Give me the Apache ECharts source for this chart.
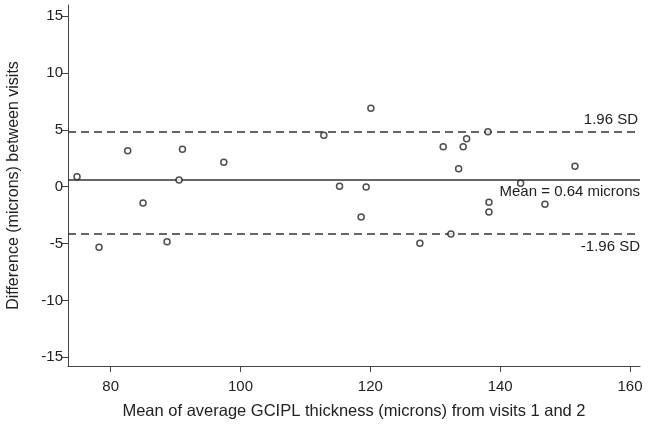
<!DOCTYPE html>
<html>
<head>
<meta charset="utf-8">
<script src="https://cdn.jsdelivr.net/npm/echarts@6/dist/echarts.min.js"></script>
<style>html,body{margin:0;padding:0;background:#fff}#c{width:648px;height:430px}</style>
</head>
<body>
<div id="c"></div>
<script>
// Bland-Altman data
const meanX = [74.81, 78.2, 82.62, 84.98, 88.68, 90.53, 91.05, 97.42, 112.83, 115.25, 118.58, 119.35, 120.08, 127.63, 131.22, 132.41, 133.6, 134.3, 134.83, 138.11, 138.27, 138.27, 143.15, 146.9, 151.52];
const diffY = [0.88, -5.33, 3.17, -1.43, -4.84, 0.59, 3.29, 2.15, 4.52, 0.04, -2.66, -0.03, 6.9, -4.98, 3.52, -4.16, 1.58, 3.52, 4.22, 4.84, -1.37, -2.23, 0.3, -1.55, 1.79];
const meanLine = 0.64;
const upperLine = 4.8;
const lowerLine = -4.18;
const xTicks = [80, 100, 120, 140, 160];
const yTicks = [-15, -10, -5, 0, 5, 10, 15];
const labels = { upper: '1.96 SD', mean: 'Mean = 0.64 microns', lower: '-1.96 SD' };
const xTitle = 'Mean of average GCIPL thickness (microns) from visits 1 and 2';
const yTitle = 'Difference (microns) between visits';

const font = 'Liberation Sans, Arial, sans-serif';
const chart = echarts.init(document.getElementById('c'), null, { renderer: 'canvas' });
const axisCol = '#444';
chart.setOption({
  animation: false,
  backgroundColor: '#fff',
  grid: { left: 68, right: 8, top: 5, bottom: 64, containLabel: false, outerBoundsMode: 'none' },
  xAxis: {
    type: 'value', min: 73.42, max: 161.54,
    name: xTitle, nameLocation: 'middle', nameGap: 37,
    nameTextStyle: { fontFamily: font, fontSize: 16.5, color: '#222' },
    axisLine: { show: true, onZero: false, lineStyle: { color: axisCol, width: 1 } },
    axisTick: { show: true, length: 6, customValues: xTicks, lineStyle: { color: axisCol } },
    axisLabel: { customValues: xTicks, fontFamily: font, fontSize: 15, color: '#222', margin: 13 },
    splitLine: { show: false }
  },
  yAxis: {
    type: 'value', min: -15.77, max: 15.98,
    name: yTitle, nameLocation: 'middle', nameGap: 46, nameRotate: 90,
    nameTextStyle: { fontFamily: font, fontSize: 16, color: '#222' },
    axisLine: { show: true, onZero: false, lineStyle: { color: axisCol, width: 1 } },
    axisTick: { show: true, length: 6, customValues: yTicks, lineStyle: { color: axisCol } },
    axisLabel: { customValues: yTicks, fontFamily: font, fontSize: 15, color: '#222', margin: 5 },
    splitLine: { show: false }
  },
  series: [{
    type: 'scatter',
    data: meanX.map((x, i) => [x, diffY[i]]),
    symbol: 'circle', symbolSize: 6,
    itemStyle: { color: '#fff', borderColor: '#222', borderWidth: 1.5 },
    z: 5,
    markLine: {
      silent: true, symbol: 'none', animation: false,
      data: [
        { yAxis: upperLine, lineStyle: { type: [8, 5], color: '#333', width: 1.5 },
          label: { show: true, formatter: labels.upper, position: 'insideEndTop', distance: [2, 5] } },
        { yAxis: meanLine, lineStyle: { type: 'solid', color: '#333', width: 1.5 },
          label: { show: true, formatter: labels.mean, position: 'insideEndBottom', distance: [0, 5] } },
        { yAxis: lowerLine, lineStyle: { type: [8, 5], color: '#333', width: 1.5 },
          label: { show: true, formatter: labels.lower, position: 'insideEndBottom', distance: [0, 5] } }
      ],
      label: { fontFamily: font, fontSize: 15, color: '#222' }
    }
  }]
});
</script>
</body>
</html>
